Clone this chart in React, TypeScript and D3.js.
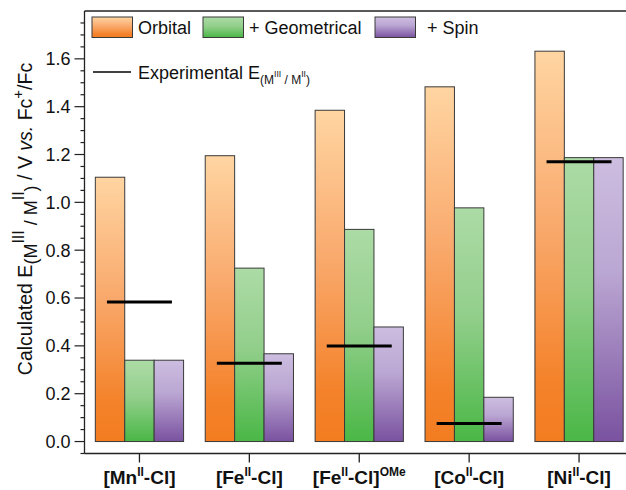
import * as d3 from 'd3';

// complexes (metal + optional superscript after the bracket)
const metals = ['Mn', 'Fe', 'Fe', 'Co', 'Ni'];
const suffixes = ['', '', 'OMe', '', ''];

// calculated potentials (V vs Fc+/Fc)
const orbitalValues = [1.105, 1.195, 1.385, 1.483, 1.632];
const geometricalValues = [0.34, 0.725, 0.887, 0.977, 1.187];
const spinValues = [0.34, 0.367, 0.479, 0.185, 1.187];
const experimentalValues = [0.583, 0.327, 0.399, 0.075, 1.17];

const yTicks = [0, 0.2, 0.4, 0.6, 0.8, 1.0, 1.2, 1.4, 1.6];
const seriesNames = ['Orbital', '+ Geometrical', '+ Spin'];

const FONT = '"Liberation Sans", Arial, Helvetica, sans-serif';
const WIDTH = 626;
const HEIGHT = 490;
const margin = { left: 84.5, right: -8, top: 11, bottom: 36.5 };

const gradients = [
    { id: 'grad-orbital', stops: [['0', '#ffd5a2'], ['0.45', '#f9a96c'], ['0.85', '#f4822a'], ['1', '#f37c20']] },
    { id: 'grad-geo', stops: [['0', '#acdba5'], ['0.45', '#93cf8c'], ['1', '#4ab746']] },
    { id: 'grad-spin', stops: [['0', '#cdbde0'], ['0.4', '#bba7d3'], ['1', '#7a52a0']] },
];

export default function App() {
    const innerW = WIDTH - margin.left - margin.right;
    const innerH = HEIGHT - margin.top - margin.bottom;

    const x = d3.scaleBand<number>().domain(d3.range(metals.length)).range([0, innerW]).padding(0);
    const sub = d3.scaleBand<number>().domain([0, 1, 2]).range([0, x.bandwidth() * 0.803]).padding(0);
    const groupOffset = (x.bandwidth() - x.bandwidth() * 0.803) / 2;
    const y = d3.scaleLinear().domain([-0.05, 1.8]).range([innerH, 0]);

    const minorTicks = d3.range(-0.05, 1.8001, 0.05).filter(v => Math.abs(Math.round(v * 5) - v * 5) > 1e-6);
    const series = [orbitalValues, geometricalValues, spinValues];

    return (
        <svg width={WIDTH} height={HEIGHT} style={{ position: 'absolute', left: 0, top: 0, background: '#fff' }} fontFamily={FONT}>
            <defs>
                {gradients.map(g => (
                    <linearGradient key={g.id} id={g.id} x1="0" y1="0" x2="0" y2="1">
                        {g.stops.map(([o, c]) => <stop key={o} offset={o} stopColor={c} />)}
                    </linearGradient>
                ))}
            </defs>
            <g transform={`translate(${margin.left}, ${margin.top})`}>
                {/* bars */}
                {metals.map((_, i) => (
                    <g key={i} transform={`translate(${x(i)! + groupOffset}, 0)`}>
                        {series.map((vals, s) => (
                            <rect key={s}
                                x={sub(s)}
                                y={y(vals[i])}
                                width={sub.bandwidth()}
                                height={y(0) - y(vals[i])}
                                fill={`url(#${gradients[s].id})`}
                                stroke="#3a3a3a" strokeWidth={1} />
                        ))}
                    </g>
                ))}
                {/* experimental lines */}
                {experimentalValues.map((v, i) => {
                    const cx = x(i)! + x.bandwidth() / 2;
                    return <line key={i} x1={cx - 32.5} x2={cx + 32.5} y1={y(v)} y2={y(v)} stroke="#000" strokeWidth={3} />;
                })}

                {/* frame */}
                <line x1={0} x2={0} y1={0} y2={innerH} stroke="#222" strokeWidth={1.3} />
                <line x1={0} x2={innerW} y1={innerH} y2={innerH} stroke="#222" strokeWidth={1.3} />
                <line x1={0} x2={innerW} y1={0} y2={0} stroke="#222" strokeWidth={1.3} />
                <line x1={innerW} x2={innerW} y1={0} y2={innerH} stroke="#222" strokeWidth={1.3} />

                {/* y axis */}
                {minorTicks.map(v => <line key={v} x1={-4} x2={0} y1={y(v)} y2={y(v)} stroke="#222" strokeWidth={1.2} />)}
                {yTicks.map(v => (
                    <g key={v} transform={`translate(0, ${y(v)})`}>
                        <line x1={-10} x2={0} stroke="#222" strokeWidth={1.2} />
                        <text x={-14} dy="0.35em" textAnchor="end" fontSize={18} fill="#111">{d3.format('.1f')(v)}</text>
                    </g>
                ))}

                {/* x axis */}
                {metals.map((m, i) => {
                    const cx = x(i)! + x.bandwidth() / 2;
                    return (
                        <g key={i} transform={`translate(${cx}, ${innerH})`}>
                            <line y1={0} y2={9} stroke="#222" strokeWidth={1.3} />
                            <text y={30.5} textAnchor="middle" fontSize={19} fontWeight="bold" fill="#111">
                                [{m}<tspan fontSize={12} dy={-8}>II</tspan><tspan dy={8}>-Cl]</tspan>
                                {suffixes[i] && <tspan fontSize={12} dy={-8}>{suffixes[i]}</tspan>}
                            </text>
                        </g>
                    );
                })}
            </g>

            {/* y axis title */}
            <text transform="rotate(-90)" x={-219} y={32} textAnchor="middle" fontSize={19.5} fill="#111">
                Calculated E
                <tspan fontSize={18} dy={5}>(M</tspan>
                <tspan fontSize={16} dy={-13}>III</tspan>
                <tspan fontSize={18} dy={13}> / M</tspan>
                <tspan fontSize={16} dy={-13}>II</tspan>
                <tspan fontSize={18} dy={13}>)</tspan>
                <tspan dy={-5}> / V </tspan>
                <tspan fontStyle="italic">vs.</tspan>
                <tspan> Fc</tspan>
                <tspan fontSize={15} dy={-9}>+</tspan>
                <tspan dy={9}>/Fc</tspan>
            </text>

            {/* legend */}
            {[92, 203, 375].map((lx, s) => (
                <g key={s} transform={`translate(${lx}, 17)`}>
                    <rect width={40.5} height={20.5} fill={`url(#${gradients[s].id})`} stroke="#3a3a3a" strokeWidth={1} />
                    <text x={[46, 46, 52][s]} y={17} fontSize={18} fill="#111">{seriesNames[s]}</text>
                </g>
            ))}
            <g transform="translate(93, 72)">
                <line x1={0} x2={38} stroke="#000" strokeWidth={1.5} />
                <text x={45} y={6.5} fontSize={18} fill="#111">
                    Experimental E
                    <tspan fontSize={12} dy={5}>(M</tspan>
                    <tspan fontSize={8.5} dy={-7}>III</tspan>
                    <tspan fontSize={12} dy={7}> / M</tspan>
                    <tspan fontSize={8.5} dy={-7}>II</tspan>
                    <tspan fontSize={12} dy={7}>)</tspan>
                </text>
            </g>
        </svg>
    );
}
